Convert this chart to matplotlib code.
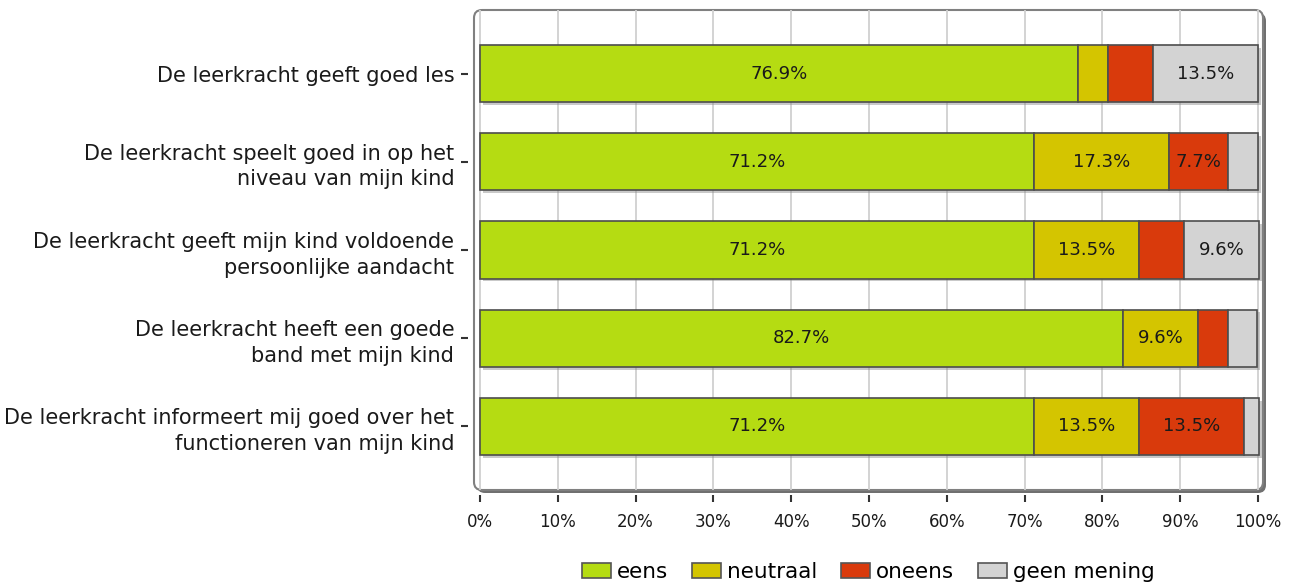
import matplotlib.pyplot as plt
import matplotlib.patheffects as pe
from matplotlib.patches import FancyBboxPatch, Patch
import numpy as np

plt.rcParams['font.family'] = 'DejaVu Sans'

# stellingen (van boven naar beneden)
vragen = [
    "De leerkracht geeft goed les",
    "De leerkracht speelt goed in op het\nniveau van mijn kind",
    "De leerkracht geeft mijn kind voldoende\npersoonlijke aandacht",
    "De leerkracht heeft een goede\nband met mijn kind",
    "De leerkracht informeert mij goed over het\nfunctioneren van mijn kind",
]

# percentages per antwoord
eens = [76.9, 71.2, 71.2, 82.7, 71.2]
neutraal = [3.8, 17.3, 13.5, 9.6, 13.5]
oneens = [5.8, 7.7, 5.8, 3.8, 13.5]
geen_mening = [13.5, 3.8, 9.6, 3.8, 1.9]

namen = ["eens", "neutraal", "oneens", "geen mening"]
kleuren = ["#b5dc12", "#d4c500", "#d93a0c", "#d3d3d3"]

x_ticks = [0, 10, 20, 30, 40, 50, 60, 70, 80, 90, 100]
x_labels = ["0%", "10%", "20%", "30%", "40%", "50%", "60%", "70%", "80%", "90%", "100%"]

W, H = 1296, 588
fig = plt.figure(figsize=(W / 100, H / 100), dpi=100)
# positie van het kader in pixels
x0, x1, y0, y1 = 474, 1263, 10, 490
ax = fig.add_axes([x0 / W, 1 - y1 / H, (x1 - x0) / W, (y1 - y0) / H])
ax.patch.set_visible(False)

# eerst de spines verplaatsen (dit zet de ticks opnieuw)
for s in ax.spines.values():
    s.set_visible(False)
ax.spines['left'].set_position(('outward', 4.3))
ax.spines['bottom'].set_position(('outward', 3.6))

y = np.arange(len(vragen))
links = np.zeros(len(vragen))
schaduw = [pe.SimplePatchShadow(offset=(2, -2), shadow_rgbFace='#888888', alpha=0.45), pe.Normal()]
for waarden, kleur, naam in zip([eens, neutraal, oneens, geen_mening], kleuren, namen):
    waarden = np.array(waarden)
    balken = ax.barh(y, waarden, left=links, height=0.65, color=kleur,
                     edgecolor='#4d4d4d', linewidth=1.2, label=naam, zorder=3)
    for b in balken:
        b.set_path_effects(schaduw)
    for yy, v, l in zip(y, waarden, links):
        if v > 6:
            ax.text(l + v / 2, yy, f"{v:.1f}%", ha='center', va='center',
                    fontsize=13, color='#1a1a1a', zorder=4)
    links = links + waarden

ax.set_xlim(-0.77, 100.64)
ax.set_ylim(4.72, -0.72)

ax.set_yticks(y)
ax.set_yticklabels(vragen)
ax.set_xticks(x_ticks)
ax.set_xticklabels(x_labels)
ax.tick_params(axis='y', length=5, width=1.5, color='#333333', pad=5,
               labelsize=15, labelcolor='#1a1a1a')
ax.tick_params(axis='x', length=5, width=1.5, color='#333333', pad=8,
               labelsize=12, labelcolor='#1a1a1a')
for lbl in ax.get_yticklabels():
    lbl.set_linespacing(1.35)

ax.grid(axis='x', color='#d0d0d0', linewidth=1.3)
ax.set_axisbelow(True)

# kader met ronde hoeken en schaduw
bw, bh = x1 - x0, y1 - y0
ronde = 'round,pad=0,rounding_size=%f' % (8 / bw)
ax.add_patch(FancyBboxPatch((3 / bw, -3 / bh), 1, 1, boxstyle=ronde, mutation_aspect=bw / bh,
                            transform=ax.transAxes, fc='#707070', ec='none', clip_on=False, zorder=-2))
ax.add_patch(FancyBboxPatch((0, 0), 1, 1, boxstyle=ronde, mutation_aspect=bw / bh,
                            transform=ax.transAxes, fc='white', ec='#808080', lw=1.5,
                            clip_on=False, zorder=-1))

handles = [Patch(fc=k, ec='#555555', lw=1.2) for k in kleuren]
fig.legend(handles, namen, loc='center', bbox_to_anchor=(868 / W, 1 - 572 / H), ncol=4,
           frameon=False, fontsize=15.5, handlelength=1.35, handleheight=0.74,
           handletextpad=0.28, columnspacing=1.1, borderaxespad=0)

fig.savefig('out.png', dpi=100)
